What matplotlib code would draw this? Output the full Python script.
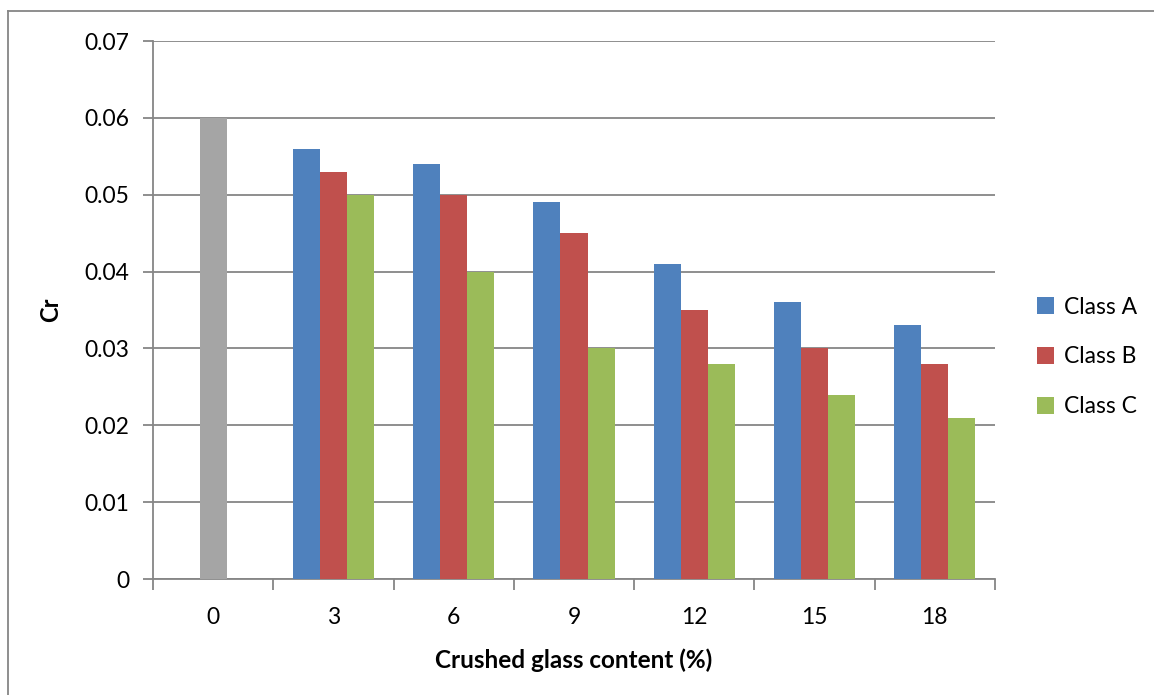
import numpy as np
import matplotlib.pyplot as plt
from matplotlib.lines import Line2D

# Data
categories = ['0', '3', '6', '9', '12', '15', '18']
control_value = 0.060
class_a = [0.056, 0.054, 0.049, 0.041, 0.036, 0.033]
class_b = [0.053, 0.050, 0.045, 0.035, 0.030, 0.028]
class_c = [0.050, 0.040, 0.030, 0.028, 0.024, 0.021]
series_names = ['Class A', 'Class B', 'Class C']
colors = ['#4F81BD', '#C0504D', '#9BBB59']
GRAY = '#A5A5A5'
LINE = '#868686'
FS = 16.5

plt.rcParams['font.family'] = ['Lato', 'DejaVu Sans']

fig = plt.figure(figsize=(11.54, 6.95), dpi=100)
ax = fig.add_axes([153 / 1154, 1 - 579 / 695, (995 - 153) / 1154, (579 - 41) / 695])

width = 0.225
x = np.arange(1, len(categories))
ax.bar(0, control_value, width, color=GRAY, zorder=3)
for i, (vals, name, col) in enumerate(zip([class_a, class_b, class_c], series_names, colors)):
    ax.bar(x + (i - 1) * width, vals, width, color=col, label=name, zorder=3)

ax.set_xlim(-0.5, len(categories) - 0.5)
ax.set_ylim(0, 0.07)
ax.set_yticks(np.arange(0, 0.071, 0.01))
ax.set_yticklabels(['0'] + ['%.2f' % v for v in np.arange(0.01, 0.071, 0.01)])
ax.set_xticks(np.arange(len(categories)))
ax.set_xticklabels(categories)
ax.set_xticks(np.arange(-0.5, len(categories)), minor=True)

ax.grid(axis='y', color=LINE, linewidth=1.3, zorder=0)
for s in ['top', 'right']:
    ax.spines[s].set_visible(False)
for s in ['left', 'bottom']:
    ax.spines[s].set_color(LINE)
    ax.spines[s].set_linewidth(1.3)
ax.tick_params(axis='y', which='major', length=7, color=LINE, width=1.3, labelsize=FS, pad=10)
ax.tick_params(axis='x', which='major', length=0, labelsize=FS, pad=20)
ax.tick_params(axis='x', which='minor', length=8, color=LINE, width=1.3)

ax.set_xlabel('Crushed glass content (%)', fontsize=17.5, fontweight='bold', labelpad=15)
ax.set_ylabel('Cr', fontsize=17, fontweight='bold', labelpad=16)

ax.legend(loc='center left', bbox_to_anchor=(1016 / 1154, 1 - 357 / 695),
          bbox_transform=fig.transFigure, frameon=False, fontsize=FS,
          handlelength=0.75, handleheight=0.75, labelspacing=1.25, handletextpad=0.45)

# chart border (left and top visible)
fig.add_artist(Line2D([8 / 1154, 8 / 1154], [0, 1 - 11 / 695], transform=fig.transFigure, color=LINE, linewidth=1.3))
fig.add_artist(Line2D([8 / 1154, 1], [1 - 11 / 695, 1 - 11 / 695], transform=fig.transFigure, color=LINE, linewidth=1.3))

fig.savefig('out.png', dpi=100)
